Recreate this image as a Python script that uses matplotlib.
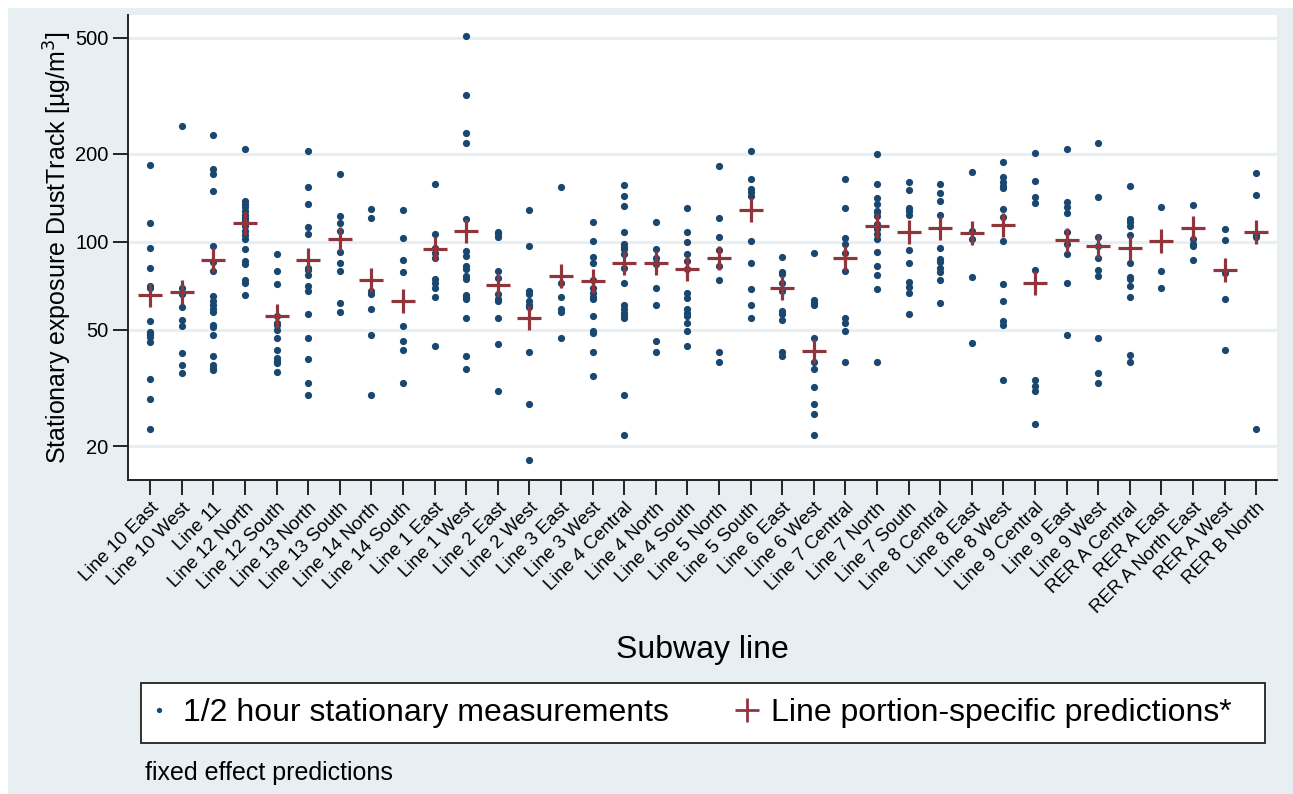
import matplotlib
matplotlib.use("Agg")
import matplotlib.pyplot as plt
from matplotlib.lines import Line2D
from matplotlib.patches import Rectangle
import numpy as np

plt.rcParams['font.family'] = ['Liberation Sans', 'DejaVu Sans']

categories = ["Line 10 East", "Line 10 West", "Line 11", "Line 12 North", "Line 12 South",
              "Line 13 North", "Line 13 South", "Line 14 North", "Line 14 South", "Line 1 East",
              "Line 1 West", "Line 2 East", "Line 2 West", "Line 3 East", "Line 3 West",
              "Line 4 Central", "Line 4 North", "Line 4 South", "Line 5 North", "Line 5 South",
              "Line 6 East", "Line 6 West", "Line 7 Central", "Line 7 North", "Line 7 South",
              "Line 8 Central", "Line 8 East", "Line 8 West", "Line 9 Central", "Line 9 East",
              "Line 9 West", "RER A Central", "RER A East", "RER A North East", "RER A West",
              "RER B North"]

measurements = [
    [184, 115.6, 95.6, 81.7, 70.4, 69.3, 53.7, 49.3, 48.6, 47.9, 47.3, 45.4, 33.8, 28.9, 22.8],
    [250, 69.3, 66.5, 59.8, 53.8, 51.7, 41.8, 37.8, 35.7],
    [233, 177, 171, 149.7, 96.6, 85.6, 79.5, 65.2, 62.7, 60.8, 58.7, 57.6, 52.1, 51.0, 47.8, 40.8, 37.8, 37.1, 36.5],
    [207.6, 137.6, 134.7, 131.2, 127.8, 123.8, 120.6, 117.5, 113.5, 109.1, 105.7, 102.1, 94.4, 86.0, 83.8, 73.8, 72.5, 65.8],
    [90.7, 79.5, 71.5, 55.6, 52.8, 52.0, 50.1, 46.7, 42.8, 40.0, 39.2, 38.5, 35.8],
    [205.4, 154.5, 134.7, 112.6, 106.8, 81.6, 79.9, 76.8, 70.6, 67.9, 56.7, 46.7, 39.7, 32.9, 29.8],
    [171.0, 122.8, 115.6, 109.1, 92.6, 84.7, 79.5, 61.7, 57.6],
    [129.5, 120.6, 67.9, 66.4, 58.7, 47.8, 29.8],
    [128.5, 102.7, 86.5, 78.7, 51.7, 45.7, 42.8, 32.9],
    [157.8, 106.8, 95.6, 91.9, 88.4, 74.8, 72.5, 69.7, 64.9, 43.9],
    [506, 318.4, 236.3, 218.3, 119.6, 93.1, 89.5, 82.7, 80.5, 76.4, 74.4, 65.8, 64.7, 63.5, 54.7, 40.8, 36.7],
    [108.5, 106.8, 104.0, 79.5, 75.4, 66.1, 63.5, 62.7, 54.7, 44.7, 30.8],
    [128.5, 96.6, 67.9, 66.4, 62.7, 61.0, 59.8, 41.9, 27.8, 17.9],
    [154.5, 72.5, 64.7, 58.7, 57.6, 46.7],
    [116.5, 100.8, 88.8, 84.9, 73.8, 69.7, 67.0, 64.7, 63.5, 55.7, 49.7, 48.8, 41.9, 34.8],
    [156.6, 143.5, 132.6, 108.5, 98.2, 96.1, 94.4, 91.2, 81.6, 72.5, 60.8, 58.7, 57.2, 55.7, 54.7, 29.8, 21.8],
    [116.5, 94.4, 88.4, 84.9, 84.0, 69.7, 60.8, 45.7, 41.9],
    [130.5, 107.7, 99.5, 90.7, 86.0, 80.5, 67.0, 64.0, 58.7, 57.2, 55.7, 52.8, 49.7, 43.9],
    [181.5, 120.6, 103.5, 93.6, 82.7, 73.8, 41.9, 38.8],
    [204.3, 164.2, 151.7, 147.7, 143.9, 100.8, 84.7, 68.8, 60.8, 54.7],
    [88.8, 79.1, 77.4, 72.5, 67.9, 57.9, 56.7, 53.8, 42.0, 40.6],
    [91.7, 63.0, 61.9, 60.8, 46.7, 38.8, 36.8, 31.8, 27.8, 25.8, 21.8],
    [164.2, 130.5, 103.0, 98.2, 91.9, 79.5, 55.0, 52.8, 49.7, 38.8],
    [200.1, 157.8, 141.3, 134.7, 127.8, 126.1, 122.8, 115.0, 110.5, 106.2, 102.1, 92.6, 82.7, 76.8, 68.8, 38.8],
    [160.8, 150.5, 130.5, 127.8, 123.8, 93.6, 84.7, 73.1, 70.0, 67.0, 56.7],
    [157.8, 147.4, 137.6, 123.8, 95.6, 87.2, 85.6, 81.6, 79.1, 73.8, 61.7],
    [173.1, 109.1, 101.9, 75.8, 44.9],
    [187.3, 167.3, 160.8, 155.7, 152.9, 129.5, 121.2, 100.8, 71.5, 62.7, 53.5, 51.9, 33.7],
    [201.2, 162.0, 142.8, 135.4, 79.9, 33.7, 32.0, 30.8, 23.8],
    [208.2, 136.5, 131.2, 125.1, 108.5, 98.2, 90.7, 72.5, 47.8],
    [217.7, 142.0, 103.5, 96.9, 88.4, 79.9, 76.4, 46.9, 35.7, 32.9],
    [155.7, 119.6, 116.5, 113.5, 105.7, 84.9, 75.8, 74.4, 70.6, 64.7, 40.9, 38.8],
    [131.5, 79.5, 69.7],
    [133.3, 101.9, 98.2, 96.9, 86.5],
    [110.5, 101.3, 78.5, 63.7, 42.8],
    [171.7, 144.7, 105.7, 104.0, 22.8],
]

predictions = [65.9, 67.5, 86.7, 115.9, 55.8, 86.7, 102.4, 74.2, 62.5, 94.4,
               109.1, 71.2, 55.0, 76.4, 73.4, 84.5, 84.9, 81.0, 87.9, 128.8,
               69.3, 42.2, 88.4, 113.5, 107.7, 111.7, 107.1, 114.1, 72.5, 101.6,
               96.9, 95.6, 100.3, 111.7, 80.3, 108.0]

y_ticks = [20, 50, 100, 200, 500]

BG = "#e8eff2"
NAVY = "#1a476f"
MAROON = "#90353b"

W, H = 1293, 794
fig = plt.figure(figsize=(W / 100, H / 100), dpi=100, facecolor="white")
fig.patches.append(Rectangle((8 / W, 0), 1 - 8 / W, 1 - 8 / H, transform=fig.transFigure,
                             facecolor=BG, edgecolor="none", zorder=-10))

ax = fig.add_axes([128 / W, 1 - 480 / H, (1277 - 128) / W, (480 - 15) / H])
ax.set_facecolor("white")

for i, vals in enumerate(measurements):
    ax.plot(np.full(len(vals), i), vals, linestyle="none", marker="o", markersize=5.2,
            color=NAVY, markeredgewidth=0, zorder=3)
ax.plot(np.arange(len(predictions)), predictions, linestyle="none", marker="+",
        markersize=17, markeredgewidth=2.3, color=MAROON, zorder=4)

ax.set_yscale("log")
ax.set_ylim(15.3, 598)
ax.set_xlim(-0.7, len(categories) - 1 + 0.66)
ax.set_yticks(y_ticks)
ax.set_yticklabels([str(t) for t in y_ticks], fontsize=14.5)
ax.yaxis.set_minor_locator(matplotlib.ticker.NullLocator())
ax.set_xticks(np.arange(len(categories)))
ax.set_xticklabels(categories, rotation=45, ha="right", va="top", rotation_mode="anchor",
                   fontsize=13.5)
ax.tick_params(axis="both", length=11, width=1.4, color="#222222")
ax.tick_params(axis="x", pad=3)
ax.tick_params(axis="y", pad=3)
ax.grid(axis="y", color=BG, linewidth=2.2, zorder=0)
ax.set_axisbelow(True)
for s in ["top", "right"]:
    ax.spines[s].set_visible(False)
for s in ["left", "bottom"]:
    ax.spines[s].set_linewidth(1.4)
    ax.spines[s].set_color("#222222")

ax.set_ylabel("Stationary exposure DustTrack [µg/m$^3$]", fontsize=18, labelpad=0.5)
ax.set_xlabel("Subway line", fontsize=23, labelpad=13)

# legend box
bx0, by0, bx1, by1 = 141, 683, 1265, 743
fig.patches.append(Rectangle((bx0 / W, 1 - by1 / H), (bx1 - bx0) / W, (by1 - by0) / H,
                             transform=fig.transFigure, facecolor="white",
                             edgecolor="#222222", linewidth=1.3, zorder=5))
handles = [Line2D([], [], linestyle="none", marker="o", markersize=3.8, color=NAVY, markeredgewidth=0),
           Line2D([], [], linestyle="none", marker="+", markersize=17, markeredgewidth=2,
                  color=MAROON)]
leg = fig.legend(handles, ["1/2 hour stationary measurements", "Line portion-specific predictions*"],
                 loc="center left", bbox_to_anchor=(bx0 / W, 1 - ((by0 + by1) / 2) / H),
                 ncol=2, fontsize=23, frameon=False,
                 handlelength=0.55, handletextpad=0.45, borderaxespad=0,
                 columnspacing=2.2, borderpad=0.3)
leg.set_zorder(6)

fig.text(145 / W, 1 - 773 / H, "fixed effect predictions", fontsize=18, va="center", ha="left")

fig.savefig("out.png", dpi=100, facecolor=fig.get_facecolor())
